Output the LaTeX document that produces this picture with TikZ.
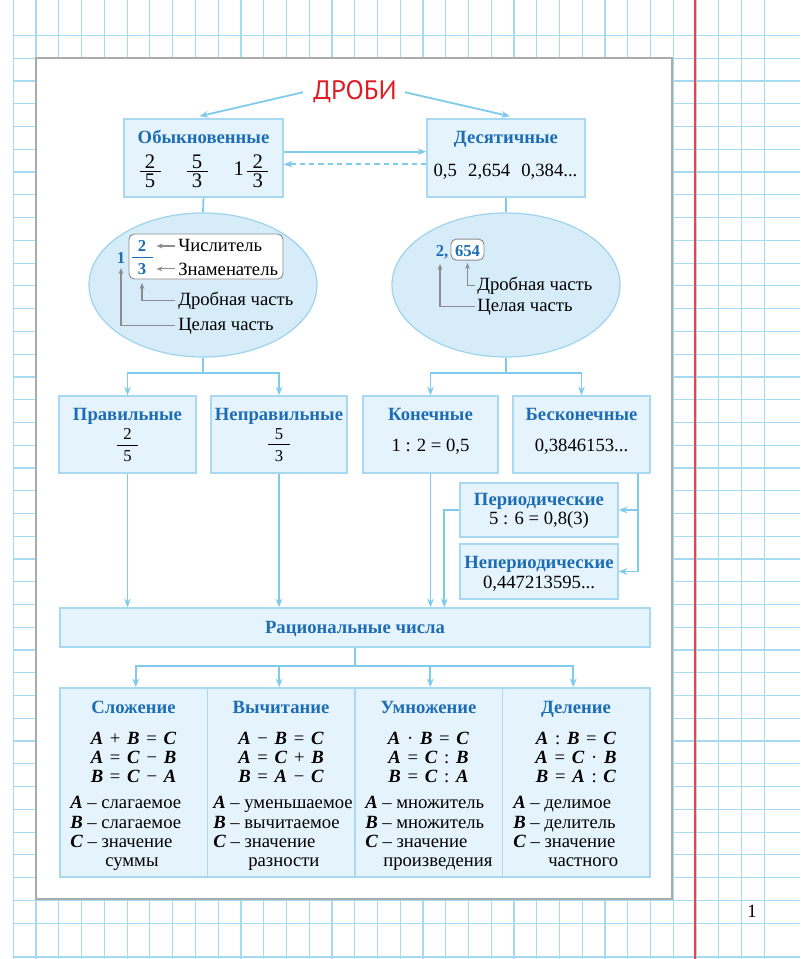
\documentclass[tikz,border=0pt]{standalone}
\usepackage{fontspec}
\setmainfont{Liberation Serif}
\newfontfamily\titlefont{PT Sans}
\usetikzlibrary{arrows.meta,shapes.geometric,calc}
\definecolor{gridc}{HTML}{A6DAF1}
\definecolor{margc}{HTML}{E4454A}
\definecolor{framec}{HTML}{ABABAB}
\definecolor{boxfill}{HTML}{E5F3FC}
\definecolor{boxline}{HTML}{A9D9F0}
\definecolor{arrc}{HTML}{7FCBEC}
\definecolor{ttl}{HTML}{1D6DB5}
\definecolor{ellfill}{HTML}{D6EDF9}
\definecolor{ellline}{HTML}{9ED3ED}
\definecolor{grayc}{HTML}{8C8C8C}
\definecolor{redt}{HTML}{E11B24}
% #1 side padding, #2 gap to the bar, #3 numerator, #4 denominator
\newcommand\mfr[4]{\ensuremath{\vcenter{\offinterlineskip\halign{\hfil\kern#1##\kern#1\hfil\cr
  #3\cr\noalign{\kern#2}
  \omit\leaders\hrule height 0.7pt\hfill\cr\noalign{\kern#2}
  #4\cr}}}}
\newcommand\lA{\textbf{\textit{A}}}
\newcommand\lB{\textbf{\textit{B}}}
\newcommand\lC{\textbf{\textit{C}}}
\newcommand\gp{\hspace{0.36em}}
\tikzset{
  gridl/.style={draw=gridc, line width=0.9pt},
  boxst/.style={draw=boxline, fill=boxfill, line width=1.1pt, inner sep=0pt},
  bx/.style 2 args={boxst, minimum width=#1*0.75pt, minimum height=#2*0.75pt},
  ell/.style={ellipse, draw=ellline, fill=ellfill, line width=0.9pt, inner sep=0pt,
              minimum width=228*0.75pt, minimum height=144*0.75pt},
  conn/.style={draw=arrc, line width=1.35pt},
  arw/.style={conn, -{Stealth[length=6.5pt,width=5pt]}},
  garw/.style={draw=grayc, line width=0.8pt, -{Stealth[length=4.5pt,width=3.6pt]}},
  hd/.style={anchor=base, inner sep=0pt, text=ttl, font=\bfseries\fontsize{14}{16}\selectfont},
  tx/.style={anchor=base, inner sep=0pt, font=\fontsize{14}{16}\selectfont},
  txl/.style={tx, anchor=base west},
  bnum/.style={anchor=base, inner sep=0pt, text=ttl, font=\bfseries\fontsize{12.5}{14}\selectfont},
  frbig/.style={anchor=base, inner sep=0pt, font=\fontsize{15.5}{18}\selectfont},
  frsm/.style={anchor=base, inner sep=0pt, font=\fontsize{12.5}{14}\selectfont},
  wbox/.style={draw=grayc, fill=white, rounded corners=4pt, line width=0.7pt, inner sep=0pt},
}
\begin{document}
\begin{tikzpicture}[x=0.75pt,y=-0.75pt]
\useasboundingbox (0,0) rectangle (800,959);
\fill[white] (0,0) rectangle (800,959);
% grid
\foreach \i in {0,...,33} \draw[gridl] ({13.3+22.76*\i},0) -- ({13.3+22.76*\i},959);
\foreach \j in {0,...,39} \draw[gridl] (13.3,{35.5+22.76*\j}) -- (800,{35.5+22.76*\j});
\draw[gridl] (13.3,957) -- (800,957);
\draw[draw=margc, line width=1.5pt] (695,0) -- (695,959);
% frame
\draw[draw=framec, line width=1.3pt, fill=white] (36,58) rectangle (672,899);
% title
\node[anchor=base, inner sep=0pt, text=redt, font=\titlefont\fontsize{20}{22}\selectfont] (title) at (355,100) {ДРОБИ};
% top boxes
\node[bx={159}{78}] (obyk) at (203.5,158) {};
\node[bx={158}{78}] (dec) at (506,158) {};
\draw[arw] ($(title.west)+(-10,0)$) -- ($(obyk.north)+(-4,-2)$);
\draw[arw] ($(title.east)+(8,0)$) -- ($(dec.north)+(4,-2)$);
\draw[arw] ($(obyk.east)+(0,-6.3)$) -- ($(dec.west)+(0,-6.3)$);
\draw[arw, dash pattern=on 4pt off 3pt] ($(dec.west)+(0,6.3)$) -- ($(obyk.east)+(0,6.3)$);
\node[hd] (obykt) at (203.5,144) {Обыкновенные};
\node[frbig] (f1) at (150,176) {\mfr{4pt}{1.8pt}{2}{5}};
\node[frbig] (f2) at (197,176) {\mfr{4pt}{1.8pt}{5}{3}};
\node[frbig] (f3) at (251,176) {1\,\mfr{4pt}{1.8pt}{2}{3}};
\node[hd] (dect) at (506,144) {Десятичные};
\node[tx] (decn) at (505.5,177) {0,5\hspace{0.6em}2,654\hspace{0.6em}0,384...};
% ellipses
\node[ell] (e1) at (203,285) {};
\node[ell] (e2) at (506,285) {};
\draw[conn] (obyk.south) -- (e1.north);
\draw[conn] (dec.south) -- (e2.north);
% left ellipse content
\node[wbox, minimum width=154*0.75pt, minimum height=45*0.75pt] (fb1) at (206,256.5) {};
\node[bnum] (one1) at (121,263) {1};
\node[bnum] (num1) at (142,252) {2};
\node[bnum] (den1) at (142,274) {3};
\draw[draw=ttl, line width=1pt] ($(num1.base)+(-10,5.3)$) -- ($(num1.base)+(11,5.3)$);
\node[txl] (chisl) at (178,252) {Числитель};
\node[txl] (znam) at (178,275) {Знаменатель};
\draw[garw] ($(chisl.west)+(-3,0)$) -- ($(num1.east |- chisl.west)+(10,0)$);
\draw[garw] ($(znam.west)+(-3,0)$) -- ($(den1.east |- znam.west)+(10,0)$);
\node[txl] (drob1) at (178,305) {Дробная часть};
\node[txl] (cel1) at (178,330) {Целая часть};
\draw[garw] ($(drob1.west)+(-3,0)$) -| ($(den1.base)+(0,9)$);
\draw[garw] ($(cel1.west)+(-3,0)$) -| ($(one1.base)+(0,5)$);
% right ellipse content
\node[wbox, minimum width=33*0.75pt, minimum height=21*0.75pt] (fb2) at (467.5,249.6) {};
\node[bnum] (two2) at (442,257) {2,};
\node[bnum] (frac2) at (467.5,257) {654};
\node[txl] (drob2) at (477,290) {Дробная часть};
\node[txl] (cel2) at (477,311) {Целая часть};
\draw[garw] ($(drob2.west)+(-2,0)$) -| ($(frac2.base)+(0,6)$);
\draw[garw] ($(cel2.west)+(-2,0)$) -| ($(two2.base)+(-2,7)$);
% second level
\node[bx={137}{77}] (prav) at (127.5,434.5) {};
\node[bx={136}{77}] (neprav) at (279,434.5) {};
\node[bx={135}{77}] (kon) at (430.5,434.5) {};
\node[bx={137}{77}] (beskon) at (581.5,434.5) {};
\node[bx={158}{54}] (per) at (539,510) {};
\node[bx={158}{55}] (neper) at (539,571.5) {};
\node[bx={590}{39}] (rat) at (355,627.5) {};
\coordinate (j1) at ($(e1.south)+(0,15)$);
\draw[conn] (e1.south) -- (j1);
\draw[arw] (j1) -| (prav.north);
\draw[arw] (j1) -| (neprav.north);
\coordinate (j2) at ($(e2.south)+(0,15)$);
\draw[conn] (e2.south) -- (j2);
\draw[arw] (j2) -| (kon.north);
\draw[arw] (j2) -| (beskon.north);
\node[hd] (pravt) at (127.5,420) {Правильные};
\node[frsm] (pravf) at (127.5,449) {\mfr{5pt}{3.8pt}{2}{5}};
\node[hd] (nepravt) at (279,420) {Неправильные};
\node[frsm] (nepravf) at (279,449) {\mfr{5pt}{3.8pt}{5}{3}};
\node[hd] (kont) at (430.5,420) {Конечные};
\node[tx] (konn) at (430.5,451.5) {1 : 2 = 0,5};
\node[hd] (beskont) at (581.5,420) {Бесконечные};
\node[tx] (beskonn) at (581.5,451.5) {0,3846153...};
\node[hd] (pert) at (539,505.5) {Периодические};
\node[tx] (pern) at (539,524) {5 : 6 = 0,8(3)};
\node[hd] (nepert) at (539,568.5) {Непериодические};
\node[tx] (nepern) at (539,588) {0,447213595...};
\node[hd] (ratt) at (355,633) {Рациональные числа};
% connectors to periodic / rational
\coordinate (bs) at ($(beskon.south)+(56.5,0)$);
\draw[conn] (bs) -- (bs |- neper.east);
\draw[arw] (bs |- per.east) -- (per.east);
\draw[arw] (bs |- neper.east) -- (neper.east);
\draw[arw] (per.west) -| ($(rat.north -| per.west)+(-15,0)$);
\draw[arw] (kon.south) -- (kon.south |- rat.north);
\draw[arw] (prav.south) -- (prav.south |- rat.north);
\draw[arw] (neprav.south) -- (neprav.south |- rat.north);
% table
\node[bx={147.5}{189}] (c1) at (133.75,782.5) {};
\node[bx={147.5}{189}] (c2) at (281.25,782.5) {};
\node[bx={147.5}{189}] (c3) at (428.75,782.5) {};
\node[bx={147.5}{189}] (c4) at (576.25,782.5) {};
\coordinate (j3) at ($(rat.south)+(0,18)$);
\draw[conn] (rat.south) -- (j3);
\draw[arw] (j3) -| ($(c1.north)+(2,0)$);
\draw[arw] (j3) -| ($(c2.north)+(-2,0)$);
\draw[arw] (j3) -| ($(c3.north)+(1.5,0)$);
\draw[arw] (j3) -| ($(c4.north)+(-3,0)$);
\node[hd] (h1) at (133.5,713.3) {Сложение};
\node[hd] (h2) at (281,713.3) {Вычитание};
\node[hd] (h3) at (428.5,713.3) {Умножение};
\node[hd] (h4) at (576,713.3) {Деление};
% column 1
\node[tx] (q11) at (133.5,744) {\lA\gp+\gp\lB\gp=\gp\lC};
\node[tx] (q12) at (133.5,763.3) {\lA\gp=\gp\lC\gp−\gp\lB};
\node[tx] (q13) at (133.5,782.3) {\lB\gp=\gp\lC\gp−\gp\lA};
\node[txl] (d11) at (70,808.5) {\lA{} – слагаемое};
\node[txl] (d12) at (70,828) {\lB{} – слагаемое};
\node[txl] (d13) at (70,847) {\lC{} – значение};
\node[txl] (d14) at (105,866) {суммы};
% column 2
\node[tx] (q21) at (281,744) {\lA\gp−\gp\lB\gp=\gp\lC};
\node[tx] (q22) at (281,763.3) {\lA\gp=\gp\lC\gp+\gp\lB};
\node[tx] (q23) at (281,782.3) {\lB\gp=\gp\lA\gp−\gp\lC};
\node[txl] (d21) at (213,808.5) {\lA{} – уменьшаемое};
\node[txl] (d22) at (213,828) {\lB{} – вычитаемое};
\node[txl] (d23) at (213,847) {\lC{} – значение};
\node[txl] (d24) at (248,866) {разности};
% column 3
\node[tx] (q31) at (428.5,744) {\lA\gp·\gp\lB\gp=\gp\lC};
\node[tx] (q32) at (428.5,763.3) {\lA\gp=\gp\lC\gp:\gp\lB};
\node[tx] (q33) at (428.5,782.3) {\lB\gp=\gp\lC\gp:\gp\lA};
\node[txl] (d31) at (365,808.5) {\lA{} – множитель};
\node[txl] (d32) at (365,828) {\lB{} – множитель};
\node[txl] (d33) at (365,847) {\lC{} – значение};
\node[txl] (d34) at (383,866) {произведения};
% column 4
\node[tx] (q41) at (576,744) {\lA\gp:\gp\lB\gp=\gp\lC};
\node[tx] (q42) at (576,763.3) {\lA\gp=\gp\lC\gp·\gp\lB};
\node[tx] (q43) at (576,782.3) {\lB\gp=\gp\lA\gp:\gp\lC};
\node[txl] (d41) at (513,808.5) {\lA{} – делимое};
\node[txl] (d42) at (513,828) {\lB{} – делитель};
\node[txl] (d43) at (513,847) {\lC{} – значение};
\node[txl] (d44) at (548,866) {частного};
% page number
\node[tx] (pg) at (752,917) {1};
\end{tikzpicture}
\end{document}
